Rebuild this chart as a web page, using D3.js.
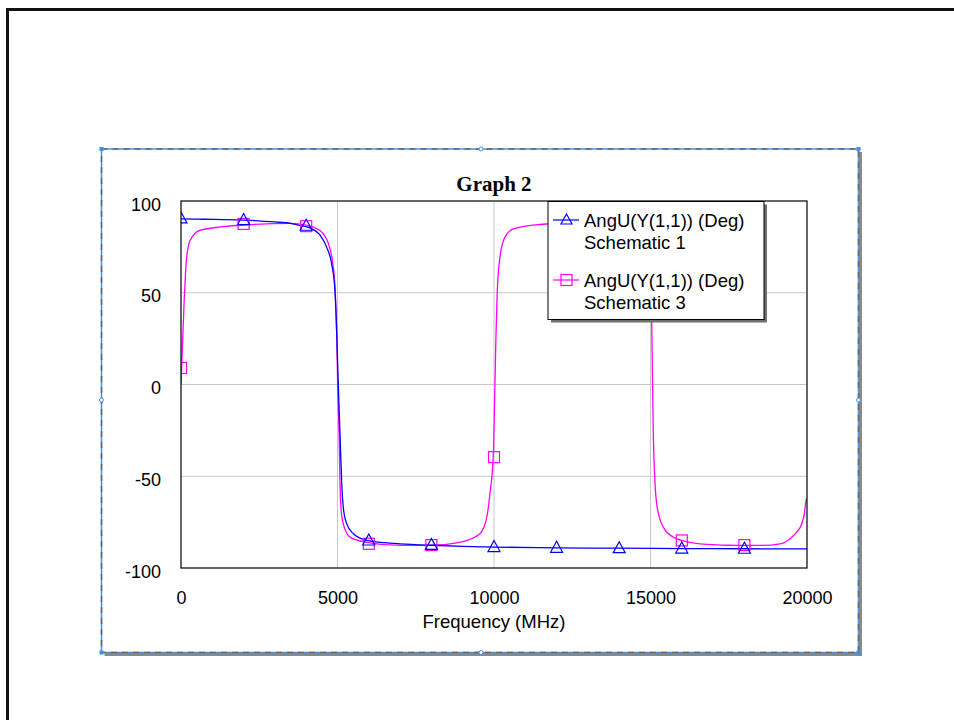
<!DOCTYPE html>
<html><head><meta charset="utf-8">
<script src="https://cdn.jsdelivr.net/npm/d3@7"></script>
<style>body{margin:0;background:#fff;} svg{display:block}</style>
</head><body><svg id="c" width="954" height="720"></svg>
<script>
// ---------- data ----------
const chartTitle = "Graph 2";
const xAxisLabel = "Frequency (MHz)";
const xTicks = [0, 5000, 10000, 15000, 20000];
const yTicks = [-100, -50, 0, 50, 100];
const legendLines1 = ["AngU(Y(1,1)) (Deg)", "Schematic 1"];
const legendLines3 = ["AngU(Y(1,1)) (Deg)", "Schematic 3"];

// Schematic 1 (blue)
const freq1 = [0, 500, 1000, 2000, 3000, 3500, 3800, 4100, 4450, 4650, 4810, 4920, 4975, 5025, 5080, 5135, 5185, 5290, 5500, 5930, 6500, 7000, 8000, 9000, 10000, 12000, 14000, 16000, 18000, 20000];
const ang1  = [90.3, 90.1, 90.0, 89.6, 88.6, 87.8, 86.6, 85.5, 81.2, 75.0, 66.0, 51.0, 28.0, 0.0, -27.0, -54.0, -67.0, -75.7, -81.2, -85.0, -86.2, -86.8, -87.6, -88.2, -88.6, -89.0, -89.2, -89.4, -89.5, -89.6];

// Schematic 3 (magenta)
const freq3 = [0, 20, 100, 180, 290, 600, 1350, 2100, 3500, 4000, 4440, 4710, 4835, 4920, 4975, 5005, 5050, 5080, 5110, 5185, 5400, 5930, 7000, 8000, 8900, 9550, 9770, 9870, 9980, 10030, 10065, 10105, 10190, 10350, 10620, 11470, 12500, 14000, 14500, 14780, 14940, 15040, 15065, 15090, 15145, 15215, 15410, 15730, 16000, 16580, 17500, 18500, 19140, 19460, 19670, 19830, 19915, 19970, 20000];
const ang3  = [0.0, 9.0, 45.0, 69.0, 78.5, 84.0, 86.0, 87.0, 87.8, 86.8, 83.9, 76.7, 67.6, 53.0, 27.6, 0.5, -26.7, -54.0, -67.0, -76.0, -83.2, -86.0, -87.7, -87.6, -86.0, -81.3, -72.3, -59.6, -37.7, 0.5, 27.8, 51.0, 69.4, 80.3, 84.8, 87.2, 88.0, 87.8, 85.0, 80.0, 69.0, 33.0, 0.5, -26.7, -54.0, -67.0, -77.8, -83.2, -85.0, -86.9, -87.6, -87.7, -86.8, -84.0, -80.5, -76.0, -70.5, -63.2, -62.0];

// marker positions
const markerFreq = [0, 2000, 4000, 6000, 8000, 10000, 12000, 14000, 16000, 18000];
const marker1 = [90.5, 89.6, 86.5, -85.0, -87.4, -88.6, -89.0, -89.2, -89.4, -89.5];
const marker3 = [9.0, 87.5, 86.3, -86.8, -87.5, -39.6, 88.0, 87.8, -85.0, -87.5];

// ---------- drawing ----------
const svg = d3.select("#c");
const L = 181, R = 807, T = 201, B = 568;
const x = d3.scaleLinear().domain([0, 20000]).range([L, R]);
const y = d3.scaleLinear().domain([-100, 100]).range([B, T]);
const sans = "'Liberation Sans', Arial, sans-serif";
const blue = "#0000ff", mag = "#ff00ff";
const fmt = d => String(d); // plain hyphen-minus

// outer page frame
svg.append("rect").attr("x", 7.5).attr("y", 9.5).attr("width", 1200).attr("height", 1200)
  .attr("fill", "none").attr("stroke", "#111").attr("stroke-width", 3);

// selection frame with shadow
const sx0 = 101.5, sy0 = 149, sx1 = 858.5, sy1 = 652.5;
svg.append("line").attr("x1", sx1 + 2).attr("x2", sx1 + 2).attr("y1", sy0 + 3).attr("y2", sy1 + 3.5)
  .attr("stroke", "#8a8a8a").attr("stroke-width", 3);
svg.append("line").attr("x1", sx0 + 3).attr("x2", sx1 + 3.5).attr("y1", sy1 + 2).attr("y2", sy1 + 2)
  .attr("stroke", "#8a8a8a").attr("stroke-width", 3);
svg.append("rect").attr("x", sx0).attr("y", sy0).attr("width", sx1 - sx0).attr("height", sy1 - sy0)
  .attr("fill", "none").attr("stroke", "#4a90e2").attr("stroke-width", 1.5);
svg.append("rect").attr("x", sx0).attr("y", sy0).attr("width", sx1 - sx0).attr("height", sy1 - sy0)
  .attr("fill", "none").attr("stroke", "#666").attr("stroke-width", 1.5).attr("stroke-dasharray", "6,5");
[[sx0, sy0], [sx1, sy0], [sx0, sy1], [sx1, sy1]].forEach(([cx, cy]) => {
  svg.append("rect").attr("x", cx - 2).attr("y", cy - 2).attr("width", 4).attr("height", 4).attr("fill", "#3d8ff0");
});
[[(sx0 + sx1) / 2 + 1, sy0], [(sx0 + sx1) / 2 + 1, sy1], [sx0, 400], [sx1, 400]].forEach(([cx, cy]) => {
  svg.append("circle").attr("cx", cx).attr("cy", cy).attr("r", 2).attr("fill", "#fff").attr("stroke", "#3d8ff0").attr("stroke-width", 1);
});

// title
svg.append("text").attr("x", (L + R) / 2).attr("y", 191).attr("text-anchor", "middle")
  .attr("font-family", "'Liberation Serif', 'Times New Roman', serif").attr("font-weight", "bold")
  .attr("font-size", 21).attr("fill", "#000").text(chartTitle);

// grid
const grid = svg.append("g");
xTicks.filter(t => t > 0 && t < 20000).forEach(t => {
  grid.append("line").attr("x1", x(t)).attr("x2", x(t)).attr("y1", T).attr("y2", B)
    .attr("stroke", "#c8c8c8").attr("stroke-width", 1);
});
yTicks.filter(t => t > -100 && t < 100).forEach(t => {
  grid.append("line").attr("x1", L).attr("x2", R).attr("y1", y(t)).attr("y2", y(t))
    .attr("stroke", "#c8c8c8").attr("stroke-width", 1);
});

// axes labels via d3 axes (no lines)
const xAxis = svg.append("g").attr("transform", `translate(0,${B})`)
  .call(d3.axisBottom(x).tickValues(xTicks).tickSize(0).tickPadding(23).tickFormat(fmt));
xAxis.select(".domain").remove();
xAxis.selectAll("text").attr("font-family", sans).attr("font-size", 18).attr("fill", "#000");
const yAxis = svg.append("g").attr("transform", `translate(${L},0)`)
  .call(d3.axisLeft(y).tickValues(yTicks).tickSize(0).tickPadding(20).tickFormat(fmt));
yAxis.select(".domain").remove();
yAxis.selectAll("text").attr("font-family", sans).attr("font-size", 18).attr("fill", "#000").attr("dy", "0.5em");

svg.append("text").attr("x", (L + R) / 2).attr("y", 628).attr("text-anchor", "middle")
  .attr("font-family", sans).attr("font-size", 18.5).attr("fill", "#000").text(xAxisLabel);

// clip
svg.append("clipPath").attr("id", "pc").append("rect").attr("x", L).attr("y", T).attr("width", R - L).attr("height", B - T);
const plot = svg.append("g").attr("clip-path", "url(#pc)");

const line = d3.line().x(d => x(d[0])).y(d => y(d[1])).curve(d3.curveMonotoneX);
const d3s = freq3.map((f, i) => [f, ang3[i]]);
const d1s = freq1.map((f, i) => [f, ang1[i]]);

plot.append("path").attr("d", line(d3s)).attr("fill", "none").attr("stroke", mag).attr("stroke-width", 1.3);
plot.append("path").attr("d", line(d1s)).attr("fill", "none").attr("stroke", blue).attr("stroke-width", 1.3);

const sq = 11;
markerFreq.forEach((f, i) => {
  plot.append("rect").attr("x", x(f) - sq / 2).attr("y", y(marker3[i]) - sq / 2).attr("width", sq).attr("height", sq)
    .attr("fill", "none").attr("stroke", mag).attr("stroke-width", 1.2);
});
const tri = (cx, cy) => `M${cx},${cy - 6.5}L${cx + 6},${cy + 4.5}L${cx - 6},${cy + 4.5}Z`;
markerFreq.forEach((f, i) => {
  plot.append("path").attr("d", tri(x(f), y(marker1[i]))).attr("fill", "none").attr("stroke", blue).attr("stroke-width", 1.2);
});

// plot frame
svg.append("rect").attr("x", L).attr("y", T).attr("width", R - L).attr("height", B - T)
  .attr("fill", "none").attr("stroke", "#000").attr("stroke-width", 1.2);

// legend
const lx = 548, ly = 201.5, lw = 216, lh = 118;
svg.append("rect").attr("x", lx + 3).attr("y", ly + 3).attr("width", lw).attr("height", lh).attr("fill", "#707070");
svg.append("rect").attr("x", lx).attr("y", ly).attr("width", lw).attr("height", lh)
  .attr("fill", "#fff").attr("stroke", "#000").attr("stroke-width", 1);
const entries = [
  { lines: legendLines1, color: blue, kind: "tri", yy: 220 },
  { lines: legendLines3, color: mag, kind: "sq", yy: 280 }
];
entries.forEach(e => {
  svg.append("line").attr("x1", lx + 5).attr("x2", lx + 31).attr("y1", e.yy).attr("y2", e.yy)
    .attr("stroke", e.color).attr("stroke-width", 1.2);
  if (e.kind === "tri") {
    svg.append("path").attr("d", `M${lx + 18.5},${e.yy - 6}L${lx + 24},${e.yy + 4}L${lx + 13},${e.yy + 4}Z`)
      .attr("fill", "none").attr("stroke", e.color).attr("stroke-width", 1.2);
  } else {
    svg.append("rect").attr("x", lx + 13).attr("y", e.yy - 5.5).attr("width", 11).attr("height", 11)
      .attr("fill", "none").attr("stroke", e.color).attr("stroke-width", 1.2);
  }
  e.lines.forEach((t, k) => {
    svg.append("text").attr("x", lx + 36).attr("y", e.yy + 7 + k * 22).attr("font-family", sans)
      .attr("font-size", 18.5).attr("fill", "#000").text(t);
  });
});
</script></body></html>
